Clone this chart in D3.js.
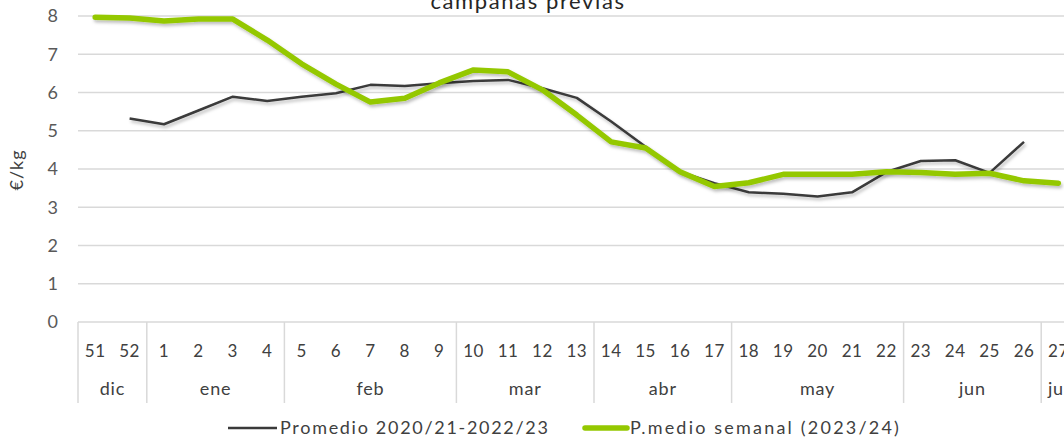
<!DOCTYPE html>
<html><head><meta charset="utf-8">
<script src="https://cdn.jsdelivr.net/npm/d3@7"></script>
<style>body{margin:0;background:#fff;} svg{display:block;}</style>
</head><body>
<svg id="chart" width="1064" height="440"></svg>
<script>
const weeks = ["51","52","1","2","3","4","5","6","7","8","9","10","11","12","13","14","15","16","17","18","19","20","21","22","23","24","25","26","27"];
const months = [
  {name:"dic", from:"51", to:"52"},
  {name:"ene", from:"1", to:"4"},
  {name:"feb", from:"5", to:"9"},
  {name:"mar", from:"10", to:"13"},
  {name:"abr", from:"14", to:"17"},
  {name:"may", from:"18", to:"22"},
  {name:"jun", from:"23", to:"26"},
  {name:"jul", from:"27", to:"27"}
];
const promedio = [null,5.32,5.17,5.53,5.89,5.78,5.89,5.98,6.20,6.17,6.24,6.30,6.33,6.11,5.86,5.24,4.58,3.93,3.63,3.39,3.35,3.28,3.39,3.92,4.21,4.23,3.90,4.71,null];
const semanal = [7.97,7.95,7.87,7.92,7.92,7.37,6.75,6.22,5.75,5.85,6.25,6.59,6.54,6.07,5.41,4.71,4.55,3.93,3.54,3.64,3.86,3.86,3.86,3.93,3.91,3.86,3.89,3.69,3.63];
const yTicks = [0,1,2,3,4,5,6,7,8];
const seriesNames = ["Promedio 2020/21-2022/23","P.medio semanal (2023/24)"];
const title = "campañas  previas";

const font = "Lato, 'DejaVu Sans', sans-serif";
const green = "#94c800";
const svg = d3.select("#chart");
const left = 78, bandW = 34.4;
const x = d3.scaleBand().domain(weeks).range([left, left + weeks.length*bandW]).padding(0);
const y = d3.scaleLinear().domain([0,8]).range([322,16]);

const defs = svg.append("defs");
const f = defs.append("filter").attr("id","sh").attr("x","-5%").attr("y","-20%").attr("width","110%").attr("height","160%");
f.append("feDropShadow").attr("dx",1.5).attr("dy",2.5).attr("stdDeviation",1.5).attr("flood-color","#000").attr("flood-opacity",0.25);

// gridlines
svg.append("g").selectAll("line").data(yTicks).join("line")
  .attr("x1",left).attr("x2",1064).attr("y1",d=>y(d)).attr("y2",d=>y(d))
  .attr("stroke","#d9d9d9").attr("stroke-width",1.5);

// y tick labels
svg.append("g").selectAll("text").data(yTicks).join("text")
  .attr("x",58).attr("y",d=>y(d)).attr("dy","0.35em").attr("text-anchor","end")
  .attr("font-family",font).attr("font-size",18).attr("fill","#595959").text(d=>d);

// y title
svg.append("text").attr("transform","translate(23,170) rotate(-90)").attr("text-anchor","middle")
  .attr("font-family",font).attr("font-size",18).attr("letter-spacing",1).attr("fill","#404040").text("€/kg");

// title (cut off at top)
svg.append("text").attr("x",528).attr("y",9).attr("text-anchor","middle")
  .attr("font-family",font).attr("font-size",22).attr("letter-spacing",1.6).attr("fill","#262626").text(title);

// x axis category dividers
const axisY = y(0);
const bounds = [weeks[0]].concat(months.slice(1).map(m=>m.from));
svg.append("g").selectAll("line").data(bounds).join("line")
  .attr("x1",d=>x(d)).attr("x2",d=>x(d)).attr("y1",axisY).attr("y2",403)
  .attr("stroke","#d9d9d9").attr("stroke-width",1.5);

// week labels
svg.append("g").selectAll("text").data(weeks).join("text")
  .attr("x",d=>x(d)+bandW/2).attr("y",357).attr("text-anchor","middle")
  .attr("font-family",font).attr("font-size",17).attr("letter-spacing",0.5).attr("fill","#404040").text(d=>d);

// month labels
svg.append("g").selectAll("text").data(months).join("text")
  .attr("x",d=>(x(d.from)+x(d.to)+bandW)/2).attr("y",395).attr("text-anchor","middle")
  .attr("font-family",font).attr("font-size",18).attr("letter-spacing",0.8).attr("fill","#404040").text(d=>d.name);

// lines
const line = d3.line().defined(d=>d.v!=null).x(d=>x(d.w)+bandW/2).y(d=>y(d.v));
const mk = arr => weeks.map((w,i)=>({w, v:arr[i]}));
svg.append("path").datum(mk(promedio)).attr("d",line).attr("fill","none")
  .attr("stroke","#3a3a3a").attr("stroke-width",2.5).attr("stroke-linejoin","round").attr("filter","url(#sh)");
svg.append("path").datum(mk(semanal)).attr("d",line).attr("fill","none")
  .attr("stroke",green).attr("stroke-width",5.5).attr("stroke-linejoin","round").attr("stroke-linecap","round").attr("filter","url(#sh)");

// legend
const lg = svg.append("g");
lg.append("line").attr("x1",228).attr("x2",277).attr("y1",428).attr("y2",428).attr("stroke","#3a3a3a").attr("stroke-width",2.5);
lg.append("text").attr("x",280).attr("y",428).attr("dy","0.35em").attr("font-family",font).attr("font-size",18).attr("letter-spacing",1.7).attr("fill","#404040").text(seriesNames[0]);
lg.append("line").attr("x1",585).attr("x2",627).attr("y1",428).attr("y2",428).attr("stroke",green).attr("stroke-width",5.5).attr("stroke-linecap","round");
lg.append("text").attr("x",630).attr("y",428).attr("dy","0.35em").attr("font-family",font).attr("font-size",18).attr("letter-spacing",2.2).attr("fill","#404040").text(seriesNames[1]);
</script>
</body></html>
